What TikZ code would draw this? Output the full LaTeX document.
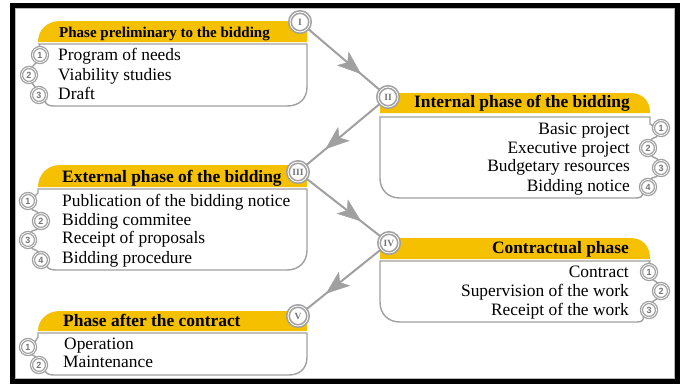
\documentclass[tikz,border=0pt]{standalone}
\usepackage{fontspec}
\setmainfont{Liberation Serif}
\newfontfamily\numfont{Liberation Sans}
\usetikzlibrary{arrows.meta,decorations.markings}
\definecolor{phaseyellow}{RGB}{245,192,0}
\definecolor{rimgray}{RGB}{160,160,160}
\definecolor{labelgray}{RGB}{115,115,115}

\tikzset{
  hdr/.style={fill=phaseyellow},
  outline/.style={draw=rimgray, line width=1.4pt},
  stepnum/.style={circle, draw=rimgray, fill=white, line width=1.3pt,
    double=white, double distance=0.7pt, minimum size=15pt, inner sep=0pt,
    font=\numfont\bfseries\fontsize{9}{9}\selectfont, text=labelgray},
  badge/.style={circle, draw=rimgray, fill=white, line width=1.6pt,
    double=white, double distance=0.8pt, minimum size=20pt, inner sep=0pt,
    font=\bfseries\fontsize{9.5}{9.5}\selectfont, text=labelgray},
  title/.style={font=\bfseries\fontsize{17.4}{18}\selectfont, inner sep=0pt},
  item/.style={font=\fontsize{17.4}{18}\selectfont, inner sep=0pt},
  flow/.style={draw=rimgray, line width=2pt, postaction={decorate},
    decoration={markings, mark=at position 0.74 with
      {\arrow[rimgray, line width=0.5pt]{Stealth[length=24pt,width=18pt,inset=6pt]}}}},
}

\begin{document}
\begin{tikzpicture}[x=1pt,y=1pt]
\useasboundingbox (0,0) rectangle (680,-384);
\fill[white] (0,0) rectangle (680,-384);

% frame
\draw[line width=5pt] (12.5,-5.5) rectangle (677,-381.5);
\draw[gray!55, line width=0.8pt] (15.5,-8.5) rectangle (674,-378.5);

% ---------- headers ----------
\fill[hdr] (38,-42) .. controls (38,-30) and (47,-21) .. (60,-21) -- (307,-21) -- (307,-42) -- cycle;
\fill[hdr] (380,-113) -- (380,-93) -- (630,-93) .. controls (643,-93) and (650,-101) .. (650,-113) -- cycle;
\fill[hdr] (38,-187) .. controls (38,-175) and (47,-165) .. (60,-165) -- (307,-165) -- (307,-187) -- cycle;
\fill[hdr] (380,-259) -- (380,-238) -- (630,-238) .. controls (643,-238) and (650,-246) .. (650,-259) -- cycle;
\fill[hdr] (38,-331) .. controls (38,-320) and (47,-311) .. (60,-311) -- (307,-311) -- (307,-331) -- cycle;

% ---------- header titles ----------
\node[title, anchor=base west, font=\bfseries\fontsize{15}{16}\selectfont] (t1) at (59,-37.7) {Phase preliminary to the bidding};
\node[title, anchor=base east] (t2) at (630,-107.3) {Internal phase of the bidding};
\node[title, anchor=base west] (t3) at (62,-182.3) {External phase of the bidding};
\node[title, anchor=base east] (t4) at (629,-253.3) {Contractual phase};
\node[title, anchor=base west] (t5) at (63,-326.7) {Phase after the contract};

% ---------- step numbers ----------
\node[stepnum] (b1n1) at (40,-55) {1};
\node[stepnum] (b1n2) at (29,-75) {2};
\node[stepnum] (b1n3) at (39,-95) {3};

\node[stepnum] (b2n1) at (661,-128) {1};
\node[stepnum] (b2n2) at (648,-148) {2};
\node[stepnum] (b2n3) at (661,-168) {3};
\node[stepnum] (b2n4) at (648,-187) {4};

\node[stepnum] (b3n1) at (28,-201) {1};
\node[stepnum] (b3n2) at (41,-221) {2};
\node[stepnum] (b3n3) at (28,-240) {3};
\node[stepnum] (b3n4) at (41,-260) {4};

\node[stepnum] (b4n1) at (649,-272) {1};
\node[stepnum] (b4n2) at (661,-291) {2};
\node[stepnum] (b4n3) at (649,-310) {3};

\node[stepnum] (b5n1) at (28,-347) {1};
\node[stepnum] (b5n2) at (39,-365) {2};

% ---------- body outlines ----------
\draw[outline] (b1n1.north) -- (39,-44) -- (307,-44) -- (307,-87)
  .. controls (307,-99) and (299,-106) .. (287,-106) -- (54,-106)
  .. controls (48,-106) and (45,-104) .. (b1n3.-40);
\draw[outline] (b1n1) to[out=-115,in=70] (b1n2);
\draw[outline] (b1n2) to[out=-70,in=115] (b1n3);

\draw[outline] (b2n1.165) -- (650,-124) -- (650,-117) -- (380,-117) -- (380,-178)
  .. controls (380,-190) and (388,-198) .. (400,-198) -- (636,-198)
  .. controls (641,-198) and (643,-196) .. (b2n4.-135);
\draw[outline] (b2n1) to[out=-115,in=70] (b2n2);
\draw[outline] (b2n2) to[out=-65,in=110] (b2n3);
\draw[outline] (b2n3) to[out=-115,in=70] (b2n4);

\draw[outline] (b3n1.35) -- (38,-193) -- (38,-189) -- (307,-189) -- (307,-250)
  .. controls (307,-262) and (299,-270) .. (287,-270) -- (56,-270)
  .. controls (50,-270) and (47,-268) .. (b3n4.-45);
\draw[outline] (b3n1) to[out=-65,in=110] (b3n2);
\draw[outline] (b3n2) to[out=-115,in=70] (b3n3);
\draw[outline] (b3n3) to[out=-65,in=110] (b3n4);

\draw[outline] (b4n1.north) -- (650,-261) -- (380,-261) -- (380,-302)
  .. controls (380,-314) and (388,-322) .. (400,-322) -- (637,-322)
  .. controls (642,-322) and (644,-320) .. (b4n3.-135);
\draw[outline] (b4n1) to[out=-65,in=110] (b4n2);
\draw[outline] (b4n2) to[out=-115,in=70] (b4n3);

\draw[outline] (b5n1.35) -- (38,-337) -- (38,-333) -- (307,-333) -- (307,-357)
  .. controls (307,-369) and (299,-375) .. (289,-375) -- (54,-375)
  .. controls (48,-375) and (46,-373) .. (b5n2.-45);
\draw[outline] (b5n1) to[out=-65,in=110] (b5n2);

% ---------- items ----------
\node[item, anchor=base west] (i11) at (58,-60) {Program of needs};
\node[item, anchor=base west] (i12) at (58,-80) {Viability studies};
\node[item, anchor=base west] (i13) at (58,-99.3) {Draft};

\node[item, anchor=base east] (i21) at (630,-134) {Basic project};
\node[item, anchor=base east] (i22) at (630,-153.3) {Executive project};
\node[item, anchor=base east] (i23) at (630,-171.7) {Budgetary resources};
\node[item, anchor=base east] (i24) at (630,-191.7) {Bidding notice};

\node[item, anchor=base west] (i31) at (62,-206) {Publication of the bidding notice};
\node[item, anchor=base west] (i32) at (62,-225) {Bidding commitee};
\node[item, anchor=base west] (i33) at (62,-243.3) {Receipt of proposals};
\node[item, anchor=base west] (i34) at (62,-263.3) {Bidding procedure};

\node[item, anchor=base east] (i41) at (629,-277.3) {Contract};
\node[item, anchor=base east] (i42) at (629,-296) {Supervision of the work};
\node[item, anchor=base east] (i43) at (629,-315) {Receipt of the work};

\node[item, anchor=base west] (i51) at (64,-349.3) {Operation};
\node[item, anchor=base west] (i52) at (63,-367.3) {Maintenance};

% ---------- phase badges and flow ----------
\node[badge] (bI)   at (300,-22)  {I};
\node[badge] (bII)  at (388,-97)  {II};
\node[badge] (bIII) at (298,-172) {III};
\node[badge] (bIV)  at (389,-243) {IV};
\node[badge] (bV)   at (298,-316) {V};

\draw[flow] (bI) -- (bII);
\draw[flow] (bII) -- (bIII);
\draw[flow] (bIII) -- (bIV);
\draw[flow] (bIV) -- (bV);
\end{tikzpicture}
\end{document}
